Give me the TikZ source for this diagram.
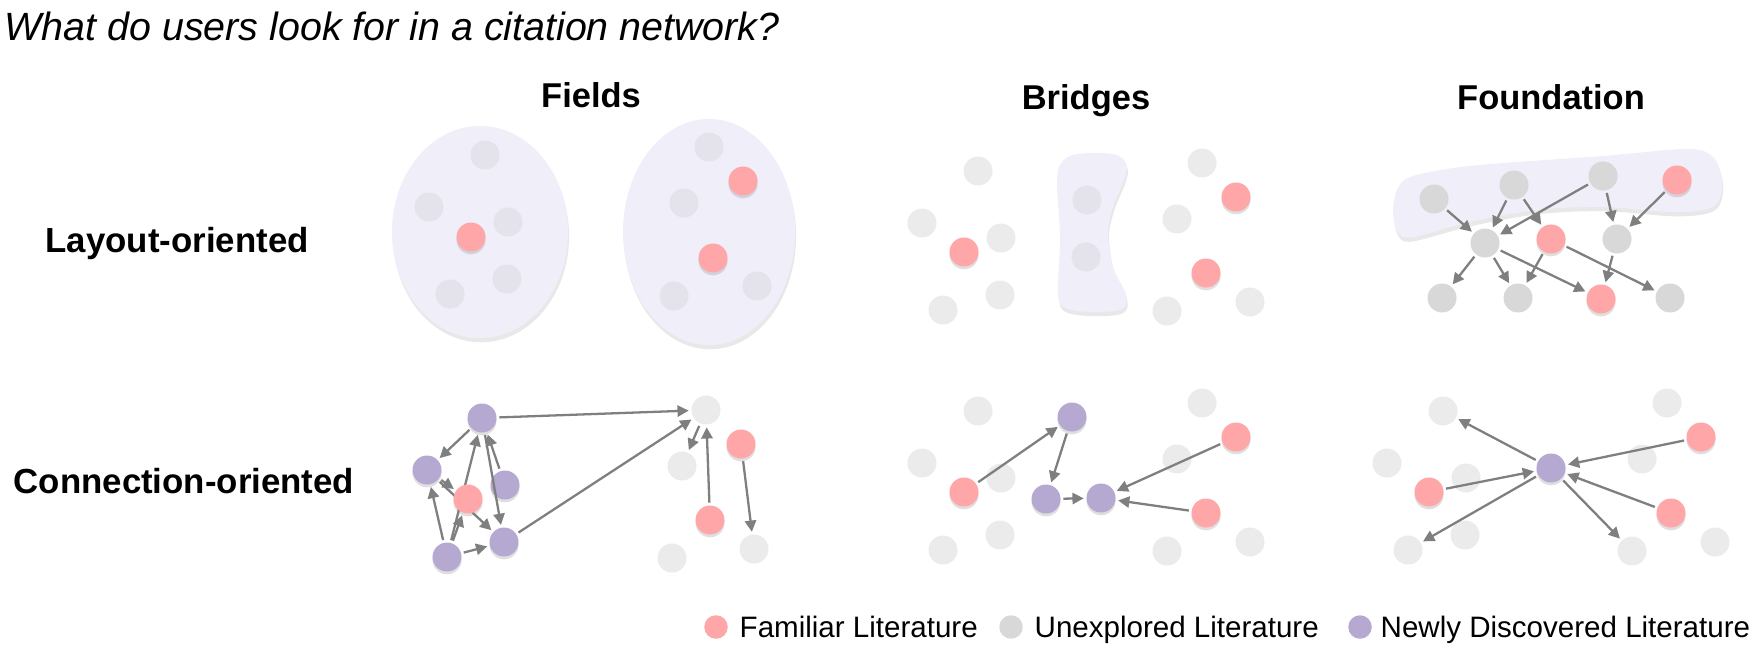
\documentclass[tikz,border=0pt]{standalone}
\usepackage{fontspec}
\setmainfont{Liberation Sans}
\usepackage{xcolor}
\usepackage{tikz}
\usetikzlibrary{arrows.meta,shadows}
\definecolor{famred}{HTML}{FFA6A8}
\definecolor{newpurple}{HTML}{B5A9D2}
\definecolor{unxlight}{HTML}{EBEBEB}
\definecolor{unxdark}{HTML}{D8D8D8}
\definecolor{unxinblob}{HTML}{E4E2EA}
\definecolor{blobfill}{HTML}{F0EEF9}
\definecolor{citegray}{HTML}{7F7F7F}
\pgfdeclarelayer{links}
\pgfsetlayers{links,main}

\begin{document}
\begin{tikzpicture}[
        x=0.01cm, y=-0.01cm,
        paper/.style={circle, inner sep=0pt, minimum size=0.29cm},
        familiar/.style={paper, fill=famred,
            drop shadow={shadow xshift=0pt, shadow yshift=-0.8pt, opacity=0.25}},
        newpaper/.style={paper, fill=newpurple,
            drop shadow={shadow xshift=0pt, shadow yshift=-0.8pt, opacity=0.25}},
        unexplored/.style={paper, fill=unxlight},
        unexdark/.style={paper, fill=unxdark},
        inblob/.style={paper, fill=unxinblob},
        blob/.style={fill=blobfill,
            drop shadow={shadow xshift=0.3pt, shadow yshift=-1.2pt, opacity=0.18}},
        cite/.style={-{Triangle[length=3.2pt,width=3.2pt]}, citegray,
            line width=0.65pt, shorten >=0.6pt, shorten <=0.6pt},
        header/.style={font=\bfseries\fontsize{9.8}{12}\selectfont, anchor=base, inner sep=0pt},
        rowlabel/.style={font=\bfseries\fontsize{9.9}{12}\selectfont, anchor=base west, inner sep=0pt},
        legtext/.style={font=\fontsize{8.4}{10}\selectfont, anchor=base west, inner sep=0pt},
        legdot/.style={circle, inner sep=0pt, minimum size=0.235cm}
    ]
    \useasboundingbox (0,0) rectangle (1755,645);

    % titles
    \node[anchor=base west, inner sep=0pt, font=\itshape\fontsize{11.2}{13}\selectfont]
        (question) at (4,40) {What do users look for in a citation network?};
    \node[header] (hfields) at (591,107) {Fields};
    \node[header] (hbridges) at (1086,109) {Bridges};
    \node[header] (hfound) at (1551,109) {Foundation};
    \node[rowlabel] (rlayout) at (45,252) {Layout-oriented};
    \node[rowlabel] (rconn) at (13,493) {Connection-oriented};

    % layout: fields
    \fill[blob] (480,232) ellipse [x radius=0.88cm, y radius=1.06cm];
    \fill[blob] (709,232) ellipse [x radius=0.86cm, y radius=1.13cm];
    \node[inblob] (lf1) at (485,155) {};
    \node[inblob] (lf2) at (429,207) {};
    \node[inblob] (lf3) at (508,222) {};
    \node[familiar] (lf4) at (471,237) {};
    \node[inblob] (lf5) at (507,279) {};
    \node[inblob] (lf6) at (450,294) {};
    \node[inblob] (rf1) at (709,147) {};
    \node[familiar] (rf2) at (743,181) {};
    \node[inblob] (rf3) at (684,203) {};
    \node[familiar] (rf4) at (713,258) {};
    \node[inblob] (rf5) at (674,296) {};
    \node[inblob] (rf6) at (757,286) {};

    % layout: bridges
    \fill[blob] plot[smooth cycle, tension=0.55] coordinates {
        (1057,180) (1062,162) (1077,154) (1113,154) (1126,163) (1125,177)
        (1113,207) (1108,233) (1113,267) (1126,295) (1122,309) (1093,312)
        (1065,308) (1058,293) (1060,237)};
    \node[unexplored] (bl1) at (978,171) {};
    \node[unexplored] (bl2) at (922,223) {};
    \node[unexplored] (bl3) at (1001,238) {};
    \node[familiar] (bl4) at (964,252) {};
    \node[unexplored] (bl5) at (1000,295) {};
    \node[unexplored] (bl6) at (943,310) {};
    \node[inblob] (bb1) at (1087,200) {};
    \node[inblob] (bb2) at (1086,257) {};
    \node[unexplored] (br1) at (1202,163) {};
    \node[familiar] (br2) at (1236,197) {};
    \node[unexplored] (br3) at (1177,219) {};
    \node[familiar] (br4) at (1206,273) {};
    \node[unexplored] (br5) at (1167,311) {};
    \node[unexplored] (br6) at (1250,302) {};

    % layout: foundation
    \fill[blob] plot[smooth cycle, tension=0.55] coordinates {
        (1410,177) (1453,168) (1503,163) (1603,156) (1687,149) (1713,157)
        (1722,180) (1718,202) (1703,210) (1670,212) (1603,207) (1537,210)
        (1470,222) (1413,237) (1398,233) (1393,213) (1397,190)};
    \node[unexdark] (ft1) at (1434,199) {};
    \node[unexdark] (ft2) at (1514,185) {};
    \node[unexdark] (ft3) at (1603,176) {};
    \node[familiar] (ft4) at (1677,180) {};
    \node[unexdark] (fm1) at (1485,243) {};
    \node[familiar] (fm2) at (1551,239) {};
    \node[unexdark] (fm3) at (1617,239) {};
    \node[unexdark] (fb1) at (1442,298) {};
    \node[unexdark] (fb2) at (1518,298) {};
    \node[familiar] (fb3) at (1601,299) {};
    \node[unexdark] (fb4) at (1670,298) {};

    \draw[cite] (ft1) -- (fm1);
    \draw[cite] (ft2) -- (fm1);
    \draw[cite] (ft2) -- (fm2);
    \draw[cite] (ft3) -- (fm1);
    \draw[cite] (ft3) -- (fm3);
    \draw[cite] (ft4) -- (fm3);
    \draw[cite] (fm1) -- (fb1);
    \draw[cite] (fm1) -- (fb2);
    \draw[cite] (fm1) -- (fb3);
    \draw[cite] (fm2) -- (fb2);
    \draw[cite] (fm3) -- (fb3);
    \draw[cite] (fm2) -- (fb4);

    % connection: fields
    \node[newpaper] (cp1) at (482,418) {};
    \node[newpaper] (cp2) at (427,470) {};
    \node[familiar] (cf1) at (468,499) {};
    \node[newpaper] (cp3) at (505,485) {};
    \node[newpaper] (cp4) at (504,542) {};
    \node[newpaper] (cp5) at (447,557) {};
    \node[unexplored] (cg1) at (706,410) {};
    \node[unexplored] (cg2) at (682,466) {};
    \node[familiar] (cf2) at (741,444) {};
    \node[familiar] (cf3) at (710,520) {};
    \node[unexplored] (cg3) at (754,549) {};
    \node[unexplored] (cg4) at (672,558) {};

    \begin{pgfonlayer}{links}
    \draw[cite] (cp5) -- (cp1);
    \draw[cite] (cp2) -- (cp4);
    \end{pgfonlayer}
    \draw[cite] (cp1) -- (cg1);
    \draw[cite] (cp1) -- (cp2);
    \draw[cite] (cp5) -- (cp2);
    \draw[cite] (cp5) -- (cf1);
    \draw[cite] (cp5) -- (cp4);
    \draw[cite] (cp2) -- (cf1);
    \draw[cite] (cp1) -- (cp4);
    \draw[cite] (cp3) -- (cp1);
    \draw[cite] (cp4) -- (cg1);
    \draw[cite] (cg1) -- (cg2);
    \draw[cite] (cf3) -- (cg1);
    \draw[cite] (cf2) -- (cg3);

    % connection: bridges
    \node[unexplored] (dl1) at (978,411) {};
    \node[unexplored] (dl2) at (922,463) {};
    \node[unexplored] (dl3) at (1001,478) {};
    \node[familiar] (dl4) at (964,492) {};
    \node[unexplored] (dl5) at (1000,535) {};
    \node[unexplored] (dl6) at (943,550) {};
    \node[newpaper] (dq1) at (1072,417) {};
    \node[newpaper] (dq2) at (1046,499) {};
    \node[newpaper] (dq3) at (1101,498) {};
    \node[unexplored] (dr1) at (1202,403) {};
    \node[familiar] (dr2) at (1236,437) {};
    \node[unexplored] (dr3) at (1177,459) {};
    \node[familiar] (dr4) at (1206,513) {};
    \node[unexplored] (dr5) at (1167,551) {};
    \node[unexplored] (dr6) at (1250,542) {};

    \draw[cite] (dl4) -- (dq1);
    \draw[cite] (dq1) -- (dq2);
    \draw[cite] (dq2) -- (dq3);
    \draw[cite] (dr2) -- (dq3);
    \draw[cite] (dr4) -- (dq3);

    % connection: foundation
    \node[unexplored] (el1) at (1443,411) {};
    \node[unexplored] (el2) at (1387,463) {};
    \node[unexplored] (el3) at (1466,478) {};
    \node[familiar] (el4) at (1429,492) {};
    \node[unexplored] (el5) at (1465,535) {};
    \node[unexplored] (el6) at (1408,550) {};
    \node[newpaper] (ec) at (1551,468) {};
    \node[unexplored] (er1) at (1667,403) {};
    \node[familiar] (er2) at (1701,437) {};
    \node[unexplored] (er3) at (1642,459) {};
    \node[familiar] (er4) at (1671,513) {};
    \node[unexplored] (er5) at (1632,551) {};
    \node[unexplored] (er6) at (1715,542) {};

    \draw[cite] (ec) -- (el1);
    \draw[cite] (el4) -- (ec);
    \draw[cite] (ec) -- (el6);
    \draw[cite] (er2) -- (ec);
    \draw[cite] (er4) -- (ec);
    \draw[cite] (ec) -- (er5);

    % legend
    \node[legdot, fill=famred] (kfam) at (716,627) {};
    \node[legtext] (kfamt) at (739,637) {Familiar Literature};
    \node[legdot, fill=unxdark] (kunx) at (1011,627) {};
    \node[legtext] (kunxt) at (1034,637) {Unexplored Literature};
    \node[legdot, fill=newpurple] (knew) at (1360,627) {};
    \node[legtext] (knewt) at (1380,637) {Newly Discovered Literature};
\end{tikzpicture}
\end{document}
